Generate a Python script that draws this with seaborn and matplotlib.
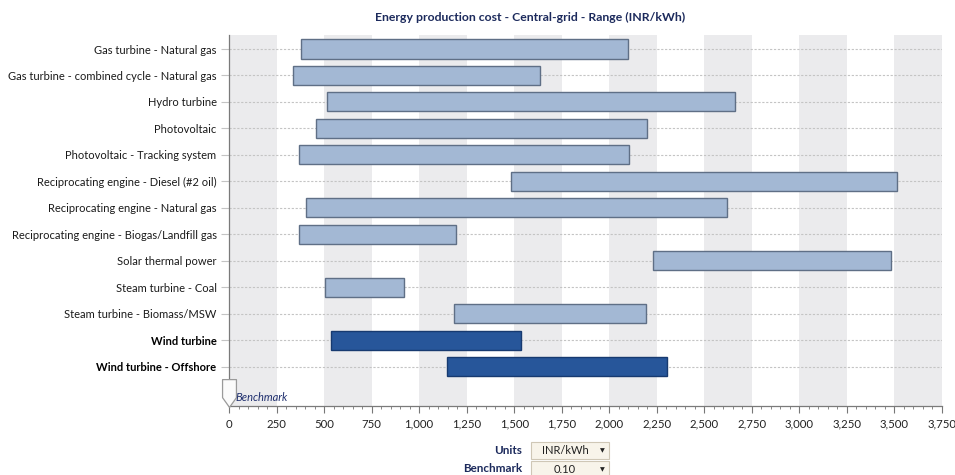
import matplotlib
matplotlib.use("Agg")
import matplotlib.pyplot as plt
from matplotlib.patches import Rectangle
from matplotlib.path import Path
from matplotlib.ticker import MultipleLocator, FuncFormatter
import numpy as np
import pandas as pd
import seaborn as sns

# Technologies and their cost range (low / high), INR/kWh
technologies = [
    "Gas turbine - Natural gas",
    "Gas turbine - combined cycle - Natural gas",
    "Hydro turbine",
    "Photovoltaic",
    "Photovoltaic - Tracking system",
    "Reciprocating engine - Diesel (#2 oil)",
    "Reciprocating engine - Natural gas",
    "Reciprocating engine - Biogas/Landfill gas",
    "Solar thermal power",
    "Steam turbine - Coal",
    "Steam turbine - Biomass/MSW",
    "Wind turbine",
    "Wind turbine - Offshore",
]
cost_low = [380, 338, 516, 458, 368, 1484, 405, 368, 2232, 503, 1182, 536, 1146]
cost_high = [2097, 1634, 2661, 2196, 2106, 3515, 2620, 1196, 3484, 920, 2194, 1538, 2306]
highlighted = ["Wind turbine", "Wind turbine - Offshore"]

x_ticks = [0, 250, 500, 750, 1000, 1250, 1500, 1750, 2000, 2250, 2500, 2750, 3000, 3250, 3500, 3750]

title = "Energy production cost - Central-grid - Range (INR/kWh)"
units_value = "INR/kWh"
benchmark_value = "0.10"

df = pd.DataFrame({"tech": technologies, "low": cost_low, "high": cost_high})
df["span"] = df["high"] - df["low"]
df["group"] = np.where(df["tech"].isin(highlighted), "project", "other")

sns.set_theme(style="white")
plt.rcParams["font.family"] = ["Lato", "DejaVu Sans"]

W, H = 955, 475
fig = plt.figure(figsize=(W / 100, H / 100), dpi=100)
ax = fig.add_axes([229 / W, 1 - 406 / H, (942 - 229) / W, (406 - 35) / H])

# alternating shaded columns
for i, start in enumerate(x_ticks[:-1]):
    if i % 2 == 0:
        ax.axvspan(start, x_ticks[i + 1], color="#ebebed", lw=0, zorder=0)

# row grid lines (dashed), drawn for every technology
for i in range(len(technologies)):
    ax.axhline(i, color="#c4c4c4", lw=0.8, ls=(0, (2, 1.5)), zorder=1)

order = technologies
light = df[df["group"] == "other"]
dark = df[df["group"] == "project"]

sns.barplot(data=light, x="span", y="tech", order=order, left=light["low"].to_numpy(),
            color="#a3b8d4", saturation=1, edgecolor="#5f6f86", linewidth=1.0,
            width=0.72, ax=ax, zorder=3, errorbar=None)
sns.barplot(data=dark, x="span", y="tech", order=order, left=dark["low"].to_numpy(),
            color="#27569a", saturation=1, edgecolor="#173a70", linewidth=1.0,
            width=0.72, ax=ax, zorder=3, errorbar=None)

ax.set_xlim(0, 3750)
ax.set_ylim(13.49, -0.53)
ax.set_xlabel("")
ax.set_ylabel("")

ax.set_yticks(range(len(technologies)))
ax.set_yticklabels(technologies, fontsize=8.0, color="#1a1a1a")
for lbl in ax.get_yticklabels():
    if lbl.get_text() in highlighted:
        lbl.set_fontweight("bold")
        lbl.set_color("#000000")

ax.xaxis.set_major_locator(MultipleLocator(250))
ax.xaxis.set_minor_locator(MultipleLocator(50))
ax.xaxis.set_major_formatter(FuncFormatter(lambda v, p: f"{int(v):,}"))
ax.tick_params(axis="x", which="major", length=5, width=0.8, color="#777777",
               labelsize=8.2, labelcolor="#222222", pad=4, bottom=True)
ax.tick_params(axis="x", which="minor", length=2.5, width=0.7, color="#888888", bottom=True)
ax.tick_params(axis="y", length=6, width=0.8, color="#c4c4c4", pad=3, left=True)

for side in ["top", "right"]:
    ax.spines[side].set_visible(False)
ax.spines["left"].set_color("#7a7a7a")
ax.spines["left"].set_linewidth(0.9)
ax.spines["bottom"].set_color("#7a7a7a")
ax.spines["bottom"].set_linewidth(0.9)

# benchmark slider knob and label
knob = Path([(-0.5, 1.0), (0.5, 1.0), (0.5, -0.3), (0.0, -1.0), (-0.5, -0.3), (-0.5, 1.0)],
            [Path.MOVETO, Path.LINETO, Path.LINETO, Path.LINETO, Path.LINETO, Path.CLOSEPOLY])
ax.plot([0], [13.0], marker=knob, markersize=20, mfc="#fbfbfb", mec="#9a9a9a",
        mew=0.9, clip_on=False, zorder=6)
ax.text(35, 13.15, "Benchmark", fontsize=8, style="italic", color="#1f2f6e",
        va="center", ha="left", zorder=6)

fig.text(530 / W, 1 - 17 / H, title, ha="center", va="center", fontsize=8.8,
         fontweight="bold", color="#1c2a5c")

# unit / benchmark selectors below the chart
navy = "#1c2a5c"
fig.text(522 / W, 1 - 450 / H, "Units", ha="right", va="center", fontsize=8.4,
         fontweight="bold", color=navy)
fig.text(522 / W, 1 - 468 / H, "Benchmark", ha="right", va="center", fontsize=8.4,
         fontweight="bold", color=navy)
for (ytop, ybot, val) in [(442, 459, units_value), (461, 478, benchmark_value)]:
    fig.add_artist(Rectangle((531 / W, 1 - ybot / H), (609 - 531) / W, (ybot - ytop) / H,
                             transform=fig.transFigure, facecolor="#f8f4ea",
                             edgecolor="#cfc7b6", lw=0.8))
    fig.text(565 / W, 1 - (ytop + ybot) / 2 / H, val, ha="center", va="center",
             fontsize=8, color="#222222")
    fig.text(602 / W, 1 - (ytop + ybot) / 2 / H, "\u25bc", ha="center", va="center",
             fontsize=4.5, color="#222222", family=["DejaVu Sans"])

fig.savefig("out.png", dpi=100)
